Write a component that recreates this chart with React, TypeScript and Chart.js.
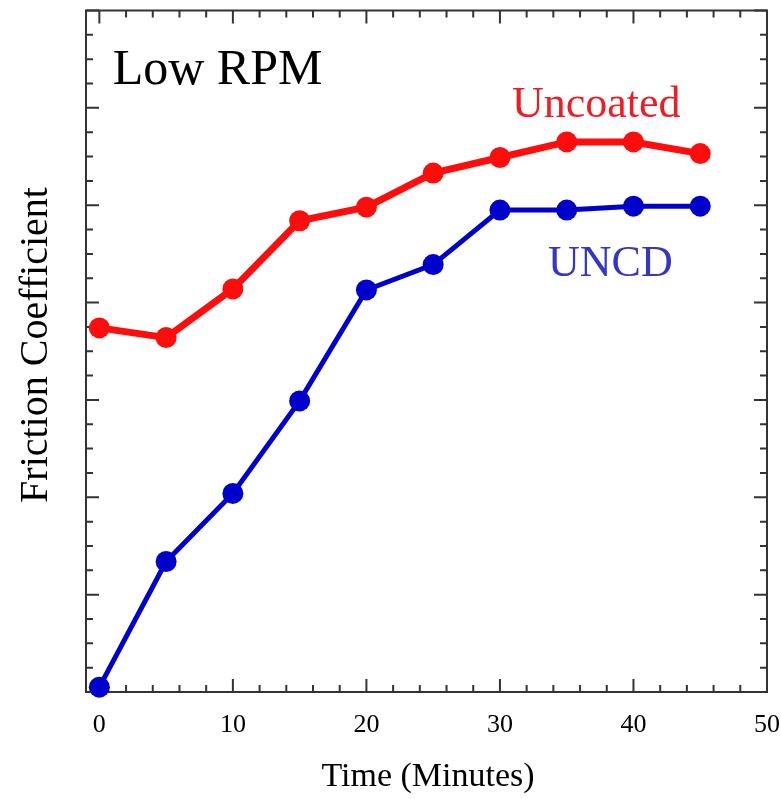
import React, { useEffect, useRef } from "react";
import { Chart, registerables } from "chart.js";

Chart.register(...registerables);

const timeMinutes = [0, 5, 10, 15, 20, 25, 30, 35, 40, 45];
const uncoatedValues = [0.374, 0.364, 0.414, 0.484, 0.498, 0.533, 0.549, 0.565, 0.565, 0.553];
const uncdValues = [0.005, 0.134, 0.204, 0.299, 0.413, 0.439, 0.495, 0.495, 0.499, 0.499];
const xTickLabels = ["0", "10", "20", "30", "40", "50"];
const xMajorTicks = [0, 10, 20, 30, 40, 50];
const xMinorTicks = [2, 4, 6, 8, 12, 14, 16, 18, 22, 24, 26, 28, 32, 34, 36, 38, 42, 44, 46, 48];
const yMajorTicks = [0, 0.1, 0.2, 0.3, 0.4, 0.5, 0.6, 0.7];
const yMinorTicks = [
  0.025, 0.05, 0.075, 0.125, 0.15, 0.175, 0.225, 0.25, 0.275, 0.325, 0.35, 0.375,
  0.425, 0.45, 0.475, 0.525, 0.55, 0.575, 0.625, 0.65, 0.675,
];

const SERIF = "'Liberation Serif', 'Times New Roman', serif";
const FRAME = "#333333";

const framePlugin = {
  id: "frameTicks",
  beforeDatasetsDraw(chart: any) {
    const { ctx, chartArea } = chart;
    const xs = chart.scales.x;
    const ys = chart.scales.y;
    const { left, right, top, bottom } = chartArea;
    ctx.save();
    ctx.strokeStyle = FRAME;
    ctx.lineWidth = 2;
    ctx.strokeRect(left, top, right - left, bottom - top);
    ctx.beginPath();
    const tickX = (vals: number[], len: number) => {
      vals.forEach((v) => {
        const px = xs.getPixelForValue(v);
        ctx.moveTo(px, bottom);
        ctx.lineTo(px, bottom - len);
        ctx.moveTo(px, top);
        ctx.lineTo(px, top + len);
      });
    };
    const tickY = (vals: number[], len: number) => {
      vals.forEach((v) => {
        const py = ys.getPixelForValue(v);
        ctx.moveTo(left, py);
        ctx.lineTo(left + len, py);
        ctx.moveTo(right, py);
        ctx.lineTo(right - len, py);
      });
    };
    tickX(xMajorTicks, 13);
    tickX(xMinorTicks, 7);
    tickY(yMajorTicks, 13);
    tickY(yMinorTicks, 7);
    ctx.stroke();
    ctx.restore();
  },
  afterDraw(chart: any) {
    const { ctx } = chart;
    const xs = chart.scales.x;
    const ys = chart.scales.y;
    ctx.save();
    ctx.fillStyle = "#000000";
    ctx.font = `26px ${SERIF}`;
    ctx.textAlign = "center";
    ctx.textBaseline = "alphabetic";
    xMajorTicks.forEach((v, i) => {
      ctx.fillText(xTickLabels[i], xs.getPixelForValue(v), 732);
    });
    ctx.font = `34px ${SERIF}`;
    ctx.fillText("Time (Minutes)", 428, 786);
    ctx.save();
    ctx.translate(47, 345);
    ctx.rotate(-Math.PI / 2);
    ctx.font = `40px ${SERIF}`;
    ctx.fillText("Friction Coefficient", 0, 0);
    ctx.restore();

    ctx.textAlign = "left";
    ctx.font = `50px ${SERIF}`;
    ctx.fillStyle = "#000000";
    ctx.fillText("Low RPM", xs.getPixelForValue(1.0), ys.getPixelForValue(0.624));
    ctx.font = `44px ${SERIF}`;
    ctx.fillStyle = "#ee1c24";
    ctx.fillText("Uncoated", xs.getPixelForValue(30.9), ys.getPixelForValue(0.591));
    ctx.fillStyle = "#3535c8";
    ctx.fillText("UNCD", xs.getPixelForValue(33.6), ys.getPixelForValue(0.427));
    ctx.restore();
  },
};

export default function App() {
  const canvasRef = useRef<HTMLCanvasElement | null>(null);

  useEffect(() => {
    document.body.style.margin = "0";
    const canvas = canvasRef.current;
    if (!canvas) return;
    const chart = new Chart(canvas, {
      type: "line",
      data: {
        datasets: [
          {
            label: "Uncoated",
            data: timeMinutes.map((t, i) => ({ x: t, y: uncoatedValues[i] })),
            borderColor: "#ff0d0d",
            backgroundColor: "#ff0d0d",
            borderWidth: 7,
            pointRadius: 10.5,
            pointBorderWidth: 0,
            pointBackgroundColor: "#ff0d0d",
            tension: 0,
            clip: false,
          },
          {
            label: "UNCD",
            data: timeMinutes.map((t, i) => ({ x: t, y: uncdValues[i] })),
            borderColor: "#0000cc",
            backgroundColor: "#0000cc",
            borderWidth: 5,
            pointRadius: 10.5,
            pointBorderWidth: 0,
            pointBackgroundColor: "#0000cc",
            tension: 0,
            clip: false,
          },
        ],
      },
      options: {
        animation: false,
        responsive: false,
        maintainAspectRatio: false,
        layout: { padding: { left: 86, top: 9, right: 14, bottom: 107 } },
        plugins: {
          legend: { display: false },
          tooltip: { enabled: false },
        },
        scales: {
          x: { type: "linear", min: -1, max: 50, display: false },
          y: { type: "linear", min: 0, max: 0.7, display: false },
        },
      },
      plugins: [framePlugin],
    } as any);
    return () => chart.destroy();
  }, []);

  return (
    <div style={{ width: 781, height: 799 }}>
      <canvas ref={canvasRef} width={781} height={799} style={{ display: "block" }} />
    </div>
  );
}
